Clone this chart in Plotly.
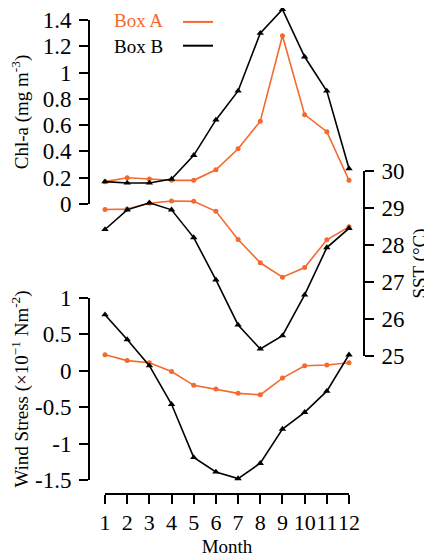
import plotly.graph_objects as go

# ---------------- data ----------------
months = [1, 2, 3, 4, 5, 6, 7, 8, 9, 10, 11, 12]
month_labels = ["1", "2", "3", "4", "5", "6", "7", "8", "9", "10", "11", "12"]

chl_box_a = [0.17, 0.20, 0.19, 0.18, 0.18, 0.26, 0.42, 0.63, 1.28, 0.68, 0.55, 0.18]
chl_box_b = [0.17, 0.16, 0.16, 0.19, 0.37, 0.64, 0.86, 1.30, 1.48, 1.12, 0.86, 0.27]

sst_box_a = [28.96, 28.97, 29.13, 29.19, 29.18, 28.91, 28.15, 27.52, 27.13, 27.39, 28.14, 28.49]
sst_box_b = [28.42, 28.95, 29.14, 28.95, 28.20, 27.06, 25.84, 25.19, 25.55, 26.65, 27.93, 28.45]

ws_box_a = [0.22, 0.14, 0.11, -0.01, -0.20, -0.25, -0.31, -0.33, -0.10, 0.07, 0.08, 0.11]
ws_box_b = [0.77, 0.43, 0.07, -0.46, -1.19, -1.39, -1.48, -1.27, -0.80, -0.57, -0.28, 0.22]

chl_ticks = [0, 0.2, 0.4, 0.6, 0.8, 1.0, 1.2, 1.4]
chl_ticktext = ["0", "0.2", "0.4", "0.6", "0.8", "1", "1.2", "1.4"]
sst_ticks = [25, 26, 27, 28, 29, 30]
ws_ticks = [-1.5, -1, -0.5, 0, 0.5, 1]
ws_ticktext = ["-1.5", "-1", "-0.5", "0", "0.5", "1"]

series_names = ["Box A", "Box B"]

# ---------------- styling ----------------
OFF = 8                      # page body margin
W, H = 432 - OFF, 558 - OFF
ORANGE = "#F46A2E"
BLACK = "#000000"
FONT = "Liberation Serif"


def fx(p):
    return (p - OFF) / W


def fy(p):
    return 1 - (p - OFF) / H


# pixel layout (screen pixels)
X_LEFT, X_RIGHT = 105, 349
CHL_TOP, CHL_BOT = 20, 204
SST_TOP, SST_BOT = 171, 356
WS_TOP, WS_BOT = 298, 480
XAXIS_Y = 494
LEFT_AX_X = 89
RIGHT_AX_X = 364

chl_max = 1.4
chl_data_top = chl_max * (CHL_BOT - OFF) / (CHL_BOT - CHL_TOP)

fig = go.Figure()

line_w = 1.6
mk_a = dict(symbol="circle", size=5, color=ORANGE)
mk_b = dict(symbol="triangle-up", size=6.5, color=BLACK)

for ys, yref in [(chl_box_a, "y"), (sst_box_a, "y2"), (ws_box_a, "y3")]:
    fig.add_trace(go.Scatter(x=months, y=ys, yaxis=yref, mode="lines+markers",
                             line=dict(color=ORANGE, width=line_w), marker=mk_a,
                             cliponaxis=False, showlegend=False, name="Box A"))
for ys, yref in [(chl_box_b, "y"), (sst_box_b, "y2"), (ws_box_b, "y3")]:
    fig.add_trace(go.Scatter(x=months, y=ys, yaxis=yref, mode="lines+markers",
                             line=dict(color=BLACK, width=line_w), marker=mk_b,
                             cliponaxis=False, showlegend=False, name="Box B"))

# helper trace so the displayed Chl-a axis gets drawn
fig.add_trace(go.Scatter(x=[months[0]], y=[chl_ticks[0]], yaxis="y4", mode="markers",
                         marker=dict(opacity=0), hoverinfo="skip", showlegend=False))

# legend entries (line only)
fig.add_trace(go.Scatter(x=[None], y=[None], mode="lines", name=series_names[0],
                         line=dict(color=ORANGE, width=2), showlegend=True))
fig.add_trace(go.Scatter(x=[None], y=[None], mode="lines", name=series_names[1],
                         line=dict(color=BLACK, width=2), showlegend=True))

ytickfont = dict(family=FONT, size=23, color="black")
xtickfont = dict(family=FONT, size=22, color="black")
titlefont = dict(family=FONT, size=19, color="black")
axcommon = dict(showgrid=False, zeroline=False, showline=True, linecolor="black",
                linewidth=2, ticks="outside", ticklen=9, tickwidth=2,
                tickcolor="black", automargin=False)

fig.update_layout(
    width=W, height=H,
    margin=dict(l=0, r=0, t=0, b=0, autoexpand=False),
    paper_bgcolor="white", plot_bgcolor="rgba(0,0,0,0)",
    font=dict(family=FONT, color="black"),
    xaxis=dict(domain=[fx(X_LEFT), fx(X_RIGHT)], range=[1, 12], anchor="free",
               position=fy(XAXIS_Y), tickvals=months, ticktext=month_labels,
               tickangle=0, tickfont=xtickfont, ticklabelstandoff=0,
               title=dict(text="Month", font=titlefont, standoff=4), **axcommon),
    # Chl-a data axis (invisible, extended above 1.4 so the peak is not clipped)
    yaxis=dict(domain=[fy(CHL_BOT), 1.0], range=[0, chl_data_top], visible=False,
               anchor="free", position=fx(LEFT_AX_X)),
    yaxis2=dict(domain=[fy(SST_BOT), fy(SST_TOP)], range=[25, 30], anchor="free",
                position=fx(RIGHT_AX_X), side="right", tickvals=sst_ticks,
                tickfont=ytickfont, ticklabelstandoff=3,
                title=dict(text="SST (°C)", font=titlefont, standoff=8), **axcommon),
    yaxis3=dict(domain=[fy(WS_BOT), fy(WS_TOP)], range=[-1.5, 1], anchor="free",
                position=fx(LEFT_AX_X), tickvals=ws_ticks, ticktext=ws_ticktext,
                tickfont=ytickfont, ticklabelstandoff=3,
                title=dict(text="Wind Stress (×10<sup>−1</sup> Nm<sup>-2</sup>)",
                           font=titlefont, standoff=9), **axcommon),
    yaxis4=dict(domain=[fy(CHL_BOT), fy(CHL_TOP)], range=[0, chl_max], anchor="free",
                position=fx(LEFT_AX_X), tickvals=chl_ticks, ticktext=chl_ticktext,
                tickfont=ytickfont, ticklabelstandoff=3,
                title=dict(text="Chl-a (mg m<sup>-3</sup>)", font=titlefont, standoff=17),
                **axcommon),
    legend=dict(x=fx(178), y=fy(5), xanchor="left", yanchor="top",
                bgcolor="rgba(0,0,0,0)", borderwidth=0,
                font=dict(family=FONT, size=16, color="rgba(0,0,0,0)"),
                tracegroupgap=0),
    showlegend=True,
)

fig.add_annotation(text="Box A", x=fx(112), y=fy(20), xref="paper", yref="paper",
                   xanchor="left", yanchor="middle", showarrow=False,
                   font=dict(family=FONT, size=19, color=ORANGE))
fig.add_annotation(text="Box B", x=fx(112), y=fy(46), xref="paper", yref="paper",
                   xanchor="left", yanchor="middle", showarrow=False,
                   font=dict(family=FONT, size=19, color=BLACK))

fig.write_html("out.html")
